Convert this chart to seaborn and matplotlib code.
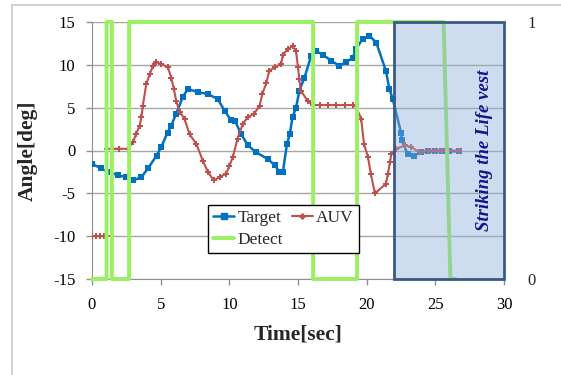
import matplotlib
matplotlib.use("Agg")
import matplotlib.pyplot as plt
import seaborn as sns
from matplotlib.patches import Rectangle
from matplotlib.lines import Line2D

# Target angle (blue, squares)
target_t = [0, 0.68, 1.16, 1.9, 2.5, 3.0, 3.6, 4.07, 4.7, 5.04, 5.5, 5.77, 6.13, 6.6, 6.98,
            7.7, 8.44, 9.16, 9.65, 10.1, 10.4, 10.86, 11.35, 11.95, 12.8, 13.3, 13.65, 13.9,
            14.2, 14.4, 14.6, 14.86, 15.1, 15.47, 15.95, 16.3, 16.8, 17.4, 18.0, 18.5, 19.0,
            19.2, 19.7, 20.2, 20.7, 21.4, 21.65, 21.9, 22.5, 22.55, 22.98, 23.47, 23.95, 24.5,
            25.0, 25.5, 26.0, 26.7]
target_deg = [-1.55, -2.1, -2.5, -2.9, -3.1, -3.5, -3.1, -2.1, -0.6, 0.4, 2.1, 2.9, 4.3, 6.2, 7.2,
              6.8, 6.6, 6.0, 4.65, 3.6, 3.5, 1.9, 0.6, -0.2, -1.0, -1.7, -2.5, -2.5,
              0.8, 1.9, 3.9, 5.0, 7.0, 8.5, 11.0, 11.6, 11.2, 10.5, 9.9, 10.3, 10.85,
              11.8, 13.0, 13.4, 12.6, 9.3, 7.2, 6.0, 2.1, 1.2, -0.4, -0.6, -0.2, -0.1,
              -0.1, -0.1, -0.1, -0.1]

# AUV heading (red, small markers)
auv_t = [0, 0.3, 0.6, 0.9, 1.06, 1.06, 1.5, 2.0, 2.6, 3.0, 3.2, 3.47, 3.6, 3.7, 3.95, 4.2,
         4.44, 4.68, 5.04, 5.53, 5.77, 5.96, 6.13, 6.38, 6.74, 7.1, 7.59, 8.07, 8.44, 8.87,
         9.3, 9.77, 10.0, 10.25, 10.6, 10.98, 11.35, 11.8, 12.2, 12.4, 12.7, 12.9, 13.3,
         13.77, 13.9, 14.25, 14.6, 14.86, 15.0, 15.1, 15.2, 15.7, 16.07, 16.6, 17.2, 17.8,
         18.4, 19.0, 19.2, 19.6, 19.8, 20.1, 20.3, 20.6, 21.4, 21.55, 21.7, 21.8, 22.15,
         22.8, 23.25, 23.85, 24.5, 25.0, 25.5, 26.0, 26.75]
auv_deg = [-10, -10, -10, -10, -10, 0.2, 0.2, 0.2, 0.2, 1.0, 1.9, 2.9, 3.9, 5.2, 7.75, 8.9,
           9.9, 10.3, 10.1, 9.7, 8.5, 7.2, 5.8, 4.5, 3.7, 1.9, 0.8, -1.2, -2.5, -3.5,
           -3.1, -2.7, -1.8, -0.8, 1.4, 3.1, 3.9, 4.3, 5.2, 6.6, 7.9, 9.3, 9.7,
           10.1, 11.2, 11.8, 12.2, 11.6, 9.7, 8.3, 7.0, 5.8, 5.3, 5.3, 5.3, 5.3,
           5.3, 5.3, 5.2, 3.7, 0.8, -0.8, -2.7, -5.0, -3.9, -2.7, -1.35, -0.4, 0.2,
           0.6, 0.4, -0.2, 0.0, 0.0, 0.0, 0.0, 0.0]

# Detect flag (green, right axis 0/1)
detect_t = [0, 1.06, 1.06, 1.45, 1.45, 2.7, 2.7, 16.1, 16.1, 19.3, 19.3, 25.6, 26.1, 26.5]
detect_flag = [0, 0, 1, 1, 0, 0, 1, 1, 0, 0, 1, 1, 0, 0]

x_ticks = [0, 5, 10, 15, 20, 25, 30]
y_ticks = [-15, -10, -5, 0, 5, 10, 15]
strike_start, strike_end = 22, 30

BLUE = "#0070c0"
RED = "#c0504d"
GREEN = "#99f060"

sns.set_style("white")
plt.rcParams["font.family"] = ["Liberation Serif", "DejaVu Serif"]

fig = plt.figure(figsize=(5.61, 3.75), dpi=100)
ax = fig.add_axes([92 / 561, 1 - 279 / 375, 412 / 561, 257 / 375])
ax2 = ax.twinx()

# chart area border (partly cropped in the original)
fig.add_artist(Line2D([12 / 561, 12 / 561], [0, 1 - 5 / 375], color="#c8c8c8", lw=1.2))
fig.add_artist(Line2D([12 / 561, 1], [1 - 5 / 375, 1 - 5 / 375], color="#c8c8c8", lw=1.2))

sns.lineplot(x=target_t, y=target_deg, ax=ax, color=BLUE, marker="s", markersize=5,
             markeredgewidth=0, lw=1.8, sort=False, estimator=None, zorder=3)
sns.lineplot(x=auv_t, y=auv_deg, ax=ax, color=RED, marker="P", markersize=4,
             markeredgewidth=0, lw=1.5, sort=False, estimator=None, zorder=3)
sns.lineplot(x=detect_t, y=detect_flag, ax=ax2, color=GREEN, lw=2.8, sort=False,
             estimator=None, clip_on=False, zorder=2)

ax.set_xlim(0, 30)
ax.set_ylim(-15, 15)
ax2.set_ylim(0, 1)
ax.set_xticks(x_ticks)
ax.set_yticks(y_ticks)
ax.set_yticklabels([str(v) for v in y_ticks])
ax2.set_yticks([0, 1])
ax2.set_yticklabels(["0", "1"])

for a in (ax, ax2):
    for s in a.spines.values():
        s.set_visible(False)
ax.spines["left"].set_visible(True)
ax.spines["bottom"].set_visible(True)
ax.spines["left"].set_color("#909090")
ax.spines["bottom"].set_color("#909090")

ax.yaxis.grid(True, color="#a6a6a6", lw=1)
ax.xaxis.grid(False)
ax.set_axisbelow(True)
ax.tick_params(axis="x", labelsize=12, colors="#909090", labelcolor="black",
               length=4, width=1, direction="out", bottom=True, pad=9)
ax.tick_params(axis="y", labelsize=12, colors="#909090", labelcolor="black",
               length=4, width=1, direction="out", left=True, pad=8)
ax2.tick_params(axis="y", labelsize=12, length=0, pad=17)

ax.set_xlabel("Time[sec]", fontsize=15.5, fontweight="bold", labelpad=8)
ax.set_ylabel("Angle[deg]", fontsize=15.5, fontweight="bold", labelpad=8)
ax.yaxis.set_label_coords(-(92 - 38) / 412, 0.5)

# shaded "striking" region, drawn over the detect line
rect = Rectangle((strike_start, 0), strike_end - strike_start, 1,
                 facecolor=(0.55, 0.68, 0.85, 0.42), edgecolor="#3a5a85", lw=2,
                 zorder=5, clip_on=False)
ax2.add_patch(rect)
ax2.text(28.6, 0.5, "Striking the Life vest", rotation=90, ha="center", va="center",
         fontsize=13.5, fontstyle="italic", fontweight="bold", color="#14148c", zorder=6)

handles = [Line2D([], [], color=BLUE, marker="s", markersize=4, lw=1.8),
           Line2D([], [], color=GREEN, lw=2.8),
           Line2D([], [], color=RED, marker="P", markersize=3.5, lw=1.5)]
labels = ["Target", "Detect", "AUV"]
leg = ax2.legend(handles, labels, ncol=2, loc="upper left",
                 bbox_to_anchor=((208 - 92) / 412, (279 - 205) / 257),
                 fontsize=12.5, frameon=True, fancybox=False, handlelength=1.2,
                 handletextpad=0.2, columnspacing=0.5, borderpad=0.3, labelspacing=0.3,
                 borderaxespad=0, framealpha=1)
leg.get_frame().set_edgecolor("black")
leg.get_frame().set_linewidth(1)
leg.set_zorder(7)

fig.savefig("out.png", dpi=100)
